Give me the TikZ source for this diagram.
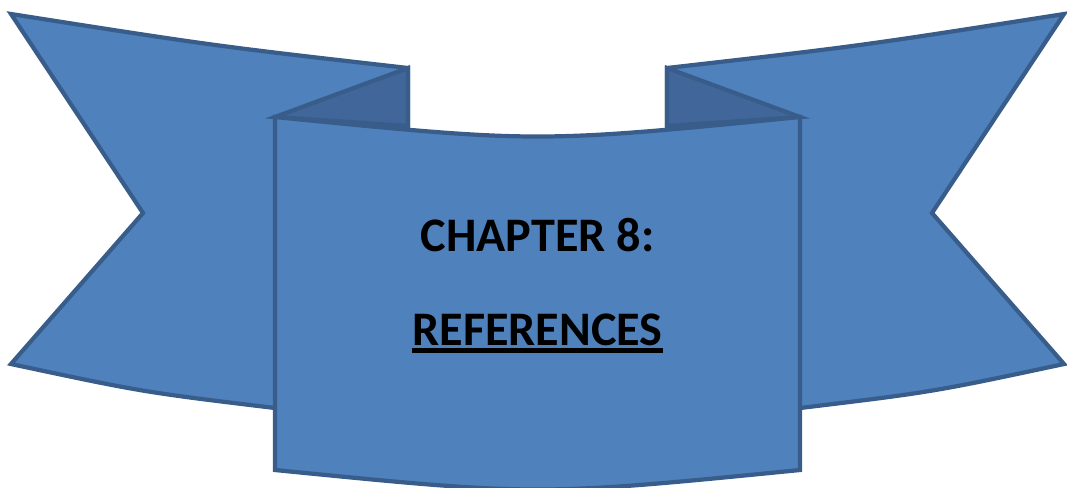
\documentclass[tikz,border=0pt]{standalone}
\usepackage{fontspec}
\setmainfont{Carlito}
\definecolor{ribfill}{HTML}{4F81BD}
\definecolor{ribline}{HTML}{385D8A}
\definecolor{foldfill}{HTML}{41679A}
\begin{document}
\begin{tikzpicture}[x=0.01cm,y=-0.01cm,
  ribbon/.style={fill=ribfill,draw=ribline,line width=1.2pt,line join=miter},
  fold/.style={fill=foldfill,draw=ribline,line width=1.2pt,line join=miter},
  label/.style={inner sep=0pt,anchor=base,font=\fontsize{13.7}{17}\selectfont\bfseries}]
\useasboundingbox (0,0) rectangle (1067,487);
% left flap
\draw[ribbon] (11,14) .. controls (215,46) .. (408,68) -- (408,140) -- (300,140) -- (300,410) -- (275,408) .. controls (142.5,392) .. (11,364) -- (143,213) -- cycle;
% right flap
\draw[ribbon] (1064,14) .. controls (860,46) .. (667,68) -- (667,140) -- (775,140) -- (775,410) -- (800,408) .. controls (932.5,392) .. (1064,364) -- (932,213) -- cycle;
% folds
\draw[fold] (408,68) -- (275,117) -- (408,126) -- cycle;
\draw[fold] (667,68) -- (800,117) -- (667,126) -- cycle;
% central panel
\draw[ribbon] (275,117) .. controls (537.5,143) .. (800,117) -- (800,470) .. controls (537.5,496) .. (275,470) -- cycle;
% text
\node[label] (t1) at (537.5,251.5) {CHAPTER 8:};
\node[label] (t2) at (537.5,345) {REFERENCES};
\draw[line width=1.2pt] ([yshift=-0.55mm]t2.base west) -- ([yshift=-0.55mm]t2.base east);
\end{tikzpicture}
\end{document}
